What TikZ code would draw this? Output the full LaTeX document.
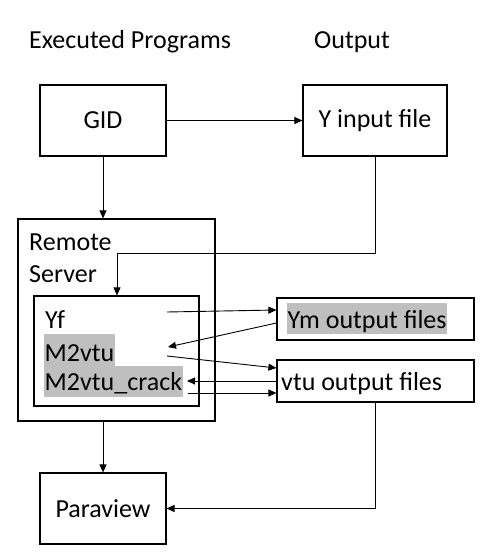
\documentclass[tikz,border=0pt]{standalone}
\usepackage{fontspec}
\setmainfont{Carlito}
\usetikzlibrary{arrows.meta}
\definecolor{hlgray}{RGB}{191,191,191}
\begin{document}
\begin{tikzpicture}[x=1pt,y=-1pt,
  font=\fontsize{26}{30}\selectfont,
  box/.style={draw, line width=1.2pt, inner sep=0pt},
  txt/.style={inner sep=0pt, anchor=base west},
  hl/.style={fill=hlgray, inner xsep=0.5pt, inner ysep=0pt, anchor=base west},
  arr/.style={-{Triangle[length=8pt,width=7pt]}, line width=0.9pt}]
\useasboundingbox (0,0) rectangle (496,560);

% titles
\node[txt] (t1) at (29,48) {Executed Programs};
\node[txt] (t2) at (314,48) {Output};

% boxes
\node[box, minimum width=126pt, minimum height=71pt] (gid) at (103,120.5) {GID};
\node[box, minimum width=144pt, minimum height=71pt] (yin) at (375,120.5) {Y input file};
\node[box, minimum width=197pt, minimum height=202pt] (remote) at (116.5,320) {};
\node[box, minimum width=165pt, minimum height=110pt] (inner) at (116.5,351) {};
\node[box, minimum width=197pt, minimum height=42pt] (ym) at (375.5,319) {};
\node[box, minimum width=197pt, minimum height=42pt] (vtu) at (375.5,381) {};
\node[box, minimum width=126pt, minimum height=71pt] (para) at (103,508.5) {Paraview};

% texts
\node[txt] (rem) at (29,250) {Remote};
\node[txt] (ser) at (29,282) {Server};
\node[txt] (yf) at (45,328) {Yf};
\node[hl, text height=27pt, text depth=5pt] (m2) at (44,361) {M2vtu};
\node[hl, text height=24pt, text depth=7pt] (m2c) at (44,390) {M2vtu\_crack};
\node[hl, text height=25pt, text depth=6pt] (ymt) at (287,328) {Ym output files};
\node[txt] (vtut) at (281,390) {vtu output files};

% free ends
\coordinate (c1) at (167,312);
\coordinate (c2) at (168,347);
\coordinate (c3) at (167,356);
\coordinate (c4) at (187,381);
\coordinate (c5) at (188,393);
\coordinate (bend) at (117,253);

% connectors
\draw[arr] (gid.east) -- (yin.west);
\draw[arr] (gid.south) -- (gid.south |- remote.north);
\draw[arr] (yin.south) |- (bend) -- (bend |- inner.north);
\draw[arr] (gid.south |- remote.south) -- (para.north);
\draw[arr] (vtu.south) |- (para.east);
\draw[arr] (c1) -- ([yshift=9pt]ym.west);
\draw[arr] ([yshift=-4pt]ym.west) -- (c2);
\draw[arr] (c3) -- ([yshift=13pt]vtu.west);
\draw[arr] (vtu.west) -- (c4);
\draw[arr] (c5) -- ([yshift=-12pt]vtu.west);
\end{tikzpicture}
\end{document}
